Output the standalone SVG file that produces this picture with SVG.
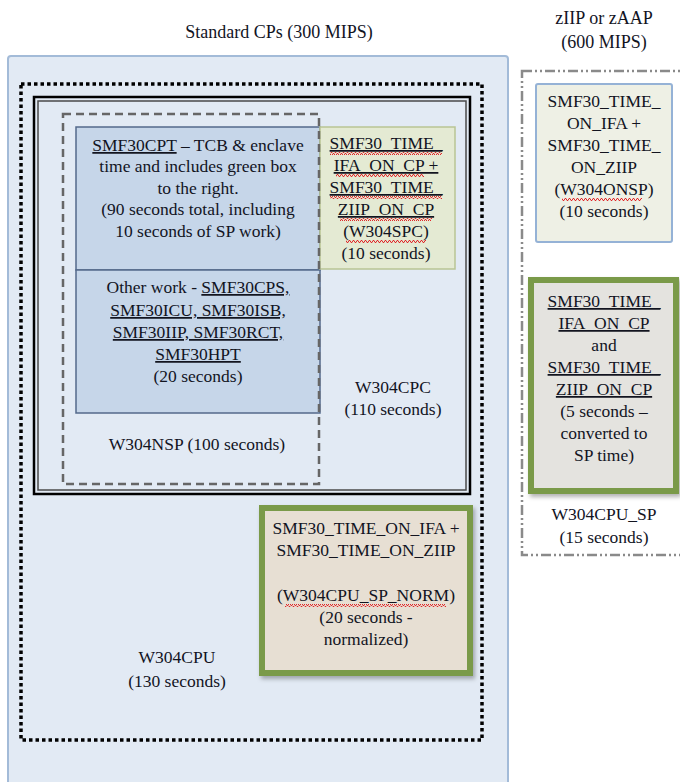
<svg xmlns="http://www.w3.org/2000/svg" width="680" height="782" viewBox="0 0 680 782">
<style>
text{font-family:"Liberation Serif","DejaVu Serif",serif;font-size:17.5px;fill:#12141f;text-anchor:middle}
.t{font-size:18px}
.u{text-decoration:underline}
.wave{fill:url(#wave)}
</style>
<defs>
<pattern id="wave" width="4" height="3" patternUnits="userSpaceOnUse">
<path d="M0,2.5 L1,0.5 L2,0.5 L3,2.5 L4,2.5" fill="none" stroke="#e0282a" stroke-width="1"/>
</pattern>
<filter id="sh" x="-10%" y="-10%" width="125%" height="125%">
<feDropShadow dx="2" dy="3" stdDeviation="2" flood-color="#000" flood-opacity="0.3"/>
</filter>
</defs>
<rect width="680" height="782" fill="#ffffff"/>

<g id="labels">
<text class="t" x="279" y="38">Standard CPs (300 MIPS)</text>
<text class="t" x="604" y="24">zIIP or zAAP</text>
<text class="t" x="604" y="48">(600 MIPS)</text>
</g>

<g id="W304CPU">
<rect x="8" y="56" width="500" height="740" rx="3" fill="#e2eaf4" stroke="#a3bbd8" stroke-width="2"/>
<rect x="21" y="84" width="461" height="656" fill="none" stroke="#000" stroke-width="3.5" stroke-dasharray="3.5 3"/>
<text x="177" y="663">W304CPU</text>
<text x="177" y="687">(130 seconds)</text>
</g>

<g id="W304CPC">
<rect x="34" y="97" width="436" height="397" fill="none" stroke="#000" stroke-width="2.5"/>
<rect x="38" y="101" width="428" height="389" fill="none" stroke="#4a4a4a" stroke-width="1.5"/>
<text x="393" y="393">W304CPC</text>
<text x="393" y="415">(110 seconds)</text>
</g>

<g id="SMF30CPT">
<rect x="76" y="127" width="244" height="143" fill="#c6d6e9" stroke="#54698a" stroke-width="1.5"/>
<text x="198" y="151"><tspan class="u">SMF30CPT</tspan> – TCB &amp; enclave</text>
<text x="198" y="172">time and includes green box</text>
<text x="198" y="194">to the right.</text>
<text x="198" y="215">(90 seconds total, including</text>
<text x="198" y="237">10 seconds of SP work)</text>
</g>

<g id="OtherWork">
<rect x="76" y="270" width="244" height="143" fill="#c6d6e9" stroke="#54698a" stroke-width="1.5"/>
<text x="198" y="293">Other work - <tspan class="u">SMF30CPS,</tspan></text>
<text x="198" y="316" class="u">SMF30ICU, SMF30ISB,</text>
<text x="198" y="338" class="u">SMF30IIP, SMF30RCT,</text>
<text x="198" y="360" class="u">SMF30HPT</text>
<text x="198" y="382">(20 seconds)</text>
</g>

<g id="W304SPC">
<rect x="320" y="127" width="135" height="142" fill="#e4ead3" stroke="#b9c594" stroke-width="1.5"/>
<text x="386" y="149" class="u">SMF30_TIME_</text>
<rect class="wave" x="330" y="152" width="112" height="3"/>
<text x="386" y="171" class="u">IFA_ON_CP +</text>
<rect class="wave" x="336" y="174" width="88" height="3"/>
<text x="386" y="193" class="u">SMF30_TIME_</text>
<rect class="wave" x="330" y="196" width="112" height="3"/>
<text x="386" y="215" class="u">ZIIP_ON_CP</text>
<rect class="wave" x="340" y="218" width="92" height="3"/>
<text x="386" y="237">(W304SPC)</text>
<rect class="wave" x="346" y="240" width="80" height="3"/>
<text x="386" y="259">(10 seconds)</text>
</g>

<g id="W304NSP">
<rect x="63" y="114" width="256" height="370" fill="none" stroke="#666" stroke-width="2.5" stroke-dasharray="8 5"/>
<text x="197" y="450">W304NSP (100 seconds)</text>
</g>

<g id="W304CPU_SP_NORM">
<rect x="262" y="508" width="208" height="165" fill="#e7dfd3" stroke="#7a9a48" stroke-width="6" filter="url(#sh)"/>
<text x="366" y="534">SMF30_TIME_ON_IFA +</text>
<text x="366" y="556">SMF30_TIME_ON_ZIIP</text>
<text x="366" y="601">(W304CPU_SP_NORM)</text>
<rect class="wave" x="285" y="604" width="161" height="3"/>
<text x="366" y="623">(20 seconds -</text>
<text x="366" y="645">normalized)</text>
</g>

<g id="W304CPU_SP">
<rect x="522" y="71" width="175" height="484" fill="none" stroke="#8a8a8a" stroke-width="2.5" stroke-dasharray="10 3 2 3 2 3"/>
<text x="604" y="520">W304CPU_SP</text>
<text x="604" y="543">(15 seconds)</text>
</g>

<g id="W304ONSP">
<rect x="536" y="84" width="136" height="158" rx="2" fill="#eef0e5" stroke="#95b2d6" stroke-width="2"/>
<text x="604" y="107">SMF30_TIME_</text>
<text x="604" y="129">ON_IFA +</text>
<text x="604" y="151">SMF30_TIME_</text>
<text x="604" y="173">ON_ZIIP</text>
<text x="604" y="195">(W304ONSP)</text>
<rect class="wave" x="562" y="198" width="80" height="3"/>
<text x="604" y="217">(10 seconds)</text>
</g>

<g id="SP_converted">
<rect x="531" y="280" width="145" height="211" fill="#e4e3df" stroke="#7a9a48" stroke-width="6" filter="url(#sh)"/>
<text x="604" y="307" class="u">SMF30_TIME_</text>
<text x="604" y="329" class="u">IFA_ON_CP</text>
<text x="604" y="351">and</text>
<text x="604" y="373" class="u">SMF30_TIME_</text>
<text x="604" y="395" class="u">ZIIP_ON_CP</text>
<text x="604" y="417">(5 seconds –</text>
<text x="604" y="439">converted to</text>
<text x="604" y="461">SP time)</text>
</g>

<g id="connectors"></g>
</svg>
